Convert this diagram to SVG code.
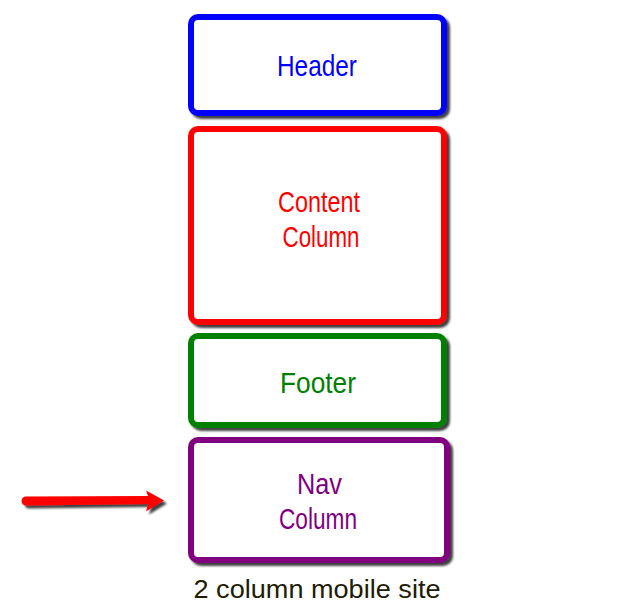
<svg xmlns="http://www.w3.org/2000/svg" width="636" height="613" viewBox="0 0 636 613">
<defs>
<filter id="sh" x="-10%" y="-10%" width="130%" height="130%">
<feGaussianBlur in="SourceAlpha" stdDeviation="1.2"/>
<feOffset dx="3" dy="3" result="o"/>
<feComponentTransfer><feFuncA type="linear" slope="0.75"/></feComponentTransfer>
<feMerge><feMergeNode/><feMergeNode in="SourceGraphic"/></feMerge>
</filter>
<style>
.box{fill:#fff;stroke-width:6;filter:url(#sh)}
.lbl{font-family:"Liberation Sans Narrow","Liberation Sans",sans-serif;font-size:30px;text-anchor:middle}
.cap{font-family:"Liberation Sans",sans-serif;font-size:26px;text-anchor:middle;fill:#221c05}
</style>
</defs>
<rect width="636" height="613" fill="#fff"/>
<g id="header">
<rect class="box" x="191" y="17" width="253" height="96" rx="7" stroke="#0000ff"/>
<text class="lbl" x="317" y="76" fill="#0000ff" textLength="80" lengthAdjust="spacingAndGlyphs">Header</text>
</g>
<g id="content">
<rect class="box" x="191" y="129" width="253" height="193" rx="7" stroke="#ff0000"/>
<text class="lbl" x="319" y="212" fill="#ff0000" textLength="82" lengthAdjust="spacingAndGlyphs">Content</text>
<text class="lbl" x="321" y="247" fill="#ff0000" textLength="77" lengthAdjust="spacingAndGlyphs">Column</text>
</g>
<g id="footer">
<rect class="box" x="191" y="336" width="253" height="89" rx="7" stroke="#008000"/>
<text class="lbl" x="318" y="393" fill="#008000" textLength="76" lengthAdjust="spacingAndGlyphs">Footer</text>
</g>
<g id="nav">
<rect class="box" x="191" y="440" width="256" height="120" rx="7" stroke="#800080"/>
<text class="lbl" x="319.5" y="494" fill="#800080" textLength="45" lengthAdjust="spacingAndGlyphs">Nav</text>
<text class="lbl" x="318" y="529" fill="#800080" textLength="78" lengthAdjust="spacingAndGlyphs">Column</text>
</g>
<g id="connectors">
<path d="M26,496.5 L148,496 L146,490.5 L164,500.5 L146,511.5 L148,504 L26,505.5 A4.5,4.5 0 0 1 26,496.5 Z" fill="#ff0000" filter="url(#sh)"/>
</g>
<text class="cap" x="317" y="598" textLength="247" lengthAdjust="spacingAndGlyphs">2 column mobile site</text>
</svg>
